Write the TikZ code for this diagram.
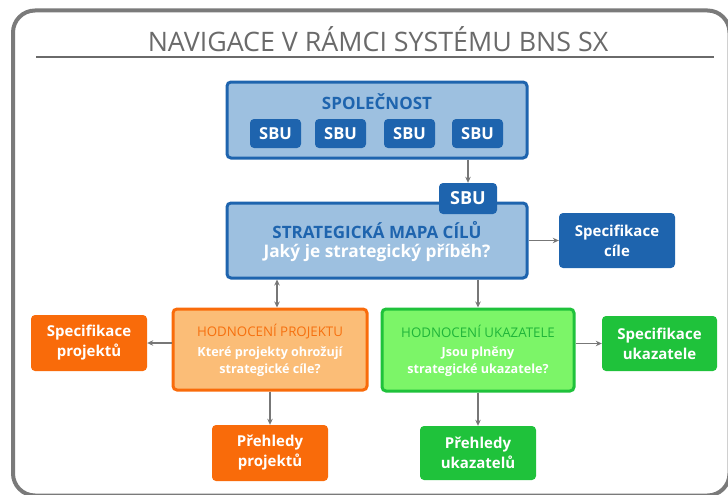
\documentclass[tikz,border=0pt]{standalone}
\usepackage{fontspec}
\setmainfont{Open Sans}
\newcommand\sbfont{\bfseries}
\usetikzlibrary{arrows.meta,calc}
\definecolor{bdark}{HTML}{1E64AE}
\definecolor{blight}{HTML}{9DC0E0}
\definecolor{odark}{HTML}{F96B0A}
\definecolor{olight}{HTML}{FBBD77}
\definecolor{otitle}{HTML}{F6700F}
\definecolor{gdark}{HTML}{1FC23B}
\definecolor{glight}{HTML}{7CF568}
\definecolor{gtitle}{HTML}{20B53A}
\definecolor{framegray}{HTML}{7A7A7A}
\definecolor{titlegray}{HTML}{6A6A6A}
\definecolor{arrgray}{HTML}{777777}
\begin{document}
\begin{tikzpicture}[x=1pt,y=-1pt,
  bigbox/.style={draw, rounded corners=4pt, line width=3pt, inner sep=0pt},
  solidbox/.style={fill=#1, draw=none, rounded corners=4pt, text=white, inner sep=0pt,
    align=center, font=\sbfont\fontsize{15}{20}\selectfont},
  sbu/.style={solidbox=bdark, minimum width=51pt, minimum height=29pt, font=\sbfont\fontsize{16.5}{21}\selectfont},
  headtxt/.style={inner sep=0pt, font=\sbfont\fontsize{17}{21}\selectfont},
  subtitle/.style={inner sep=0pt, font=\fontsize{13.3}{16}\selectfont},
  whitetxt/.style={inner sep=0pt, text=white, align=center, font=\sbfont\fontsize{12.6}{17}\selectfont},
  arr/.style={draw=arrgray, line width=1.3pt, -{Stealth[length=6pt,width=5.5pt]}},
  arrboth/.style={draw=arrgray, line width=1.3pt, {Stealth[length=6pt,width=5.5pt]}-{Stealth[length=6pt,width=5.5pt]}},
]
\useasboundingbox (0,0) rectangle (728,495);
\begin{scope}
\clip (0,0) rectangle (728,495);
\draw[framegray, line width=4pt, rounded corners=22pt] (13,10.5) rectangle (729.5,495.5);
\end{scope}

% title
\node[text=titlegray, inner sep=0pt, font=\fontsize{26.8}{30}\selectfont] (title) at (378,39) {NAVIGACE V RÁMCI SYSTÉMU BNS SX};
\draw[titlegray, line width=2pt] (36,57) -- (714,57);

% company
\node[bigbox, draw=bdark, fill=blight, minimum width=300pt, minimum height=76pt] (spol) at (377,120) {};
\node[headtxt, text=bdark] (spoltxt) at (377,102) {SPOLEČNOST};
\node[sbu] (s1) at (275.5,133.5) {SBU};
\node[sbu] (s2) at (340.5,133.5) {SBU};
\node[sbu] (s3) at (409.5,133.5) {SBU};
\node[sbu] (s4) at (477.5,133.5) {SBU};

% strategic map
\node[bigbox, draw=bdark, fill=blight, minimum width=300pt, minimum height=75pt] (strat) at (377,240.5) {};
\node[sbu, minimum width=58pt, minimum height=31pt, font=\sbfont\fontsize{18}{22}\selectfont] (sbutab) at (468,198.5) {SBU};
\node[headtxt, text=bdark] (strattxt) at (377,230) {STRATEGICKÁ MAPA CÍLŮ};
\node[whitetxt, font=\sbfont\fontsize{17.3}{22}\selectfont] (stratq) at (377,253) {Jaký je strategický příběh?};

\node[solidbox=bdark, minimum width=116pt, minimum height=55pt] (speccile) at (617,240.5) {Specifikace\\cíle};

% project evaluation
\node[bigbox, draw=odark, fill=olight, minimum width=194pt, minimum height=81pt] (hp) at (270,349.5) {};
\node[subtitle, text=otitle] (hptxt) at (270,332) {HODNOCENÍ PROJEKTU};
\node[whitetxt] (hpq) at (270,361.5) {Které projekty ohrožují\\strategické cíle?};
\node[solidbox=odark, minimum width=116pt, minimum height=56pt] (specproj) at (89,343) {Specifikace\\projektů};
\node[solidbox=odark, minimum width=116pt, minimum height=56pt] (prehproj) at (270,453) {Přehledy\\projektů};

% indicator evaluation
\node[bigbox, draw=gdark, fill=glight, minimum width=192pt, minimum height=82pt] (hu) at (478,350) {};
\node[subtitle, text=gtitle] (hutxt) at (478,331) {HODNOCENÍ UKAZATELE};
\node[whitetxt] (huq) at (478,361.5) {Jsou plněny\\strategické ukazatele?};
\node[solidbox=gdark, minimum width=115pt, minimum height=55pt] (specuk) at (659.5,343.5) {Specifikace\\ukazatele};
\node[solidbox=gdark, minimum width=116pt, minimum height=54pt] (prehuk) at (478,453) {Přehledy\\ukazatelů};

% connectors
\coordinate (c1) at (277,0);
\draw[arr] (spol.south -| sbutab.north) -- (sbutab.north);
\draw[arr] (strat.east) -- (speccile.west);
\draw[arrboth] (strat.south -| c1) -- (hp.north -| c1);
\draw[arr] (strat.south -| hu.north) -- (hu.north);
\draw[arr] (hp.west |- specproj.east) -- (specproj.east);
\draw[arr] (hp.south) -- (prehproj.north);
\draw[arr] (hu.east |- specuk.west) -- (specuk.west);
\draw[arr] (hu.south) -- (prehuk.north);
\end{tikzpicture}
\end{document}
